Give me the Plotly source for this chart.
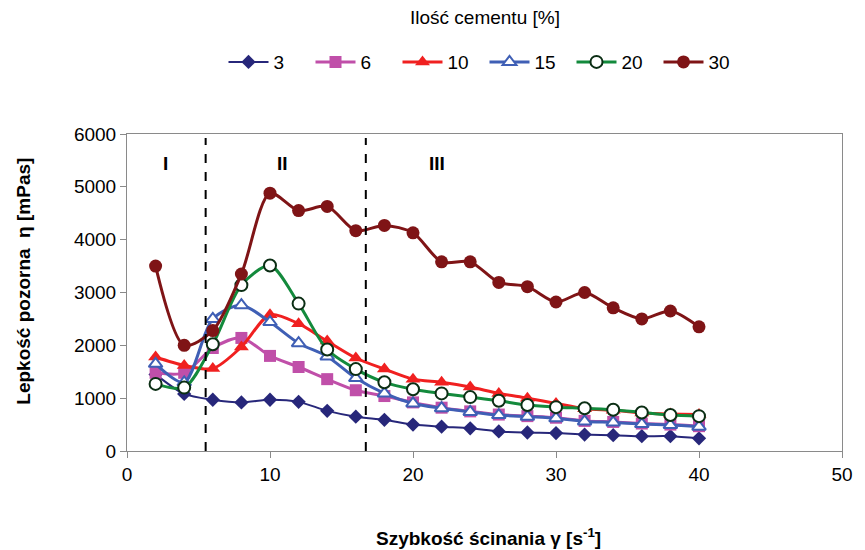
import plotly.graph_objects as go

shear_rate = [2, 4, 6, 8, 10, 12, 14, 16, 18, 20, 22, 24, 26, 28, 30, 32, 34, 36, 38, 40]

visc_3 = [1450, 1080, 970, 920, 970, 930, 760, 650, 590, 500, 460, 430, 370, 350, 340, 310, 300, 280, 280, 240]
visc_6 = [1480, 1480, 1950, 2140, 1800, 1590, 1360, 1150, 1040, 920, 820, 750, 690, 660, 630, 570, 550, 520, 500, 470]
visc_10 = [1780, 1620, 1560, 1970, 2580, 2410, 2080, 1760, 1550, 1360, 1300, 1210, 1090, 1000, 900, 800, 770, 720, 700, 690]
visc_15 = [1650, 1300, 2500, 2760, 2440, 2040, 1790, 1380, 1090, 900, 810, 740, 680, 650, 620, 560, 540, 510, 490, 460]
visc_20 = [1270, 1200, 2020, 3140, 3510, 2790, 1920, 1550, 1300, 1170, 1090, 1020, 950, 870, 830, 810, 780, 730, 680, 660]
visc_30 = [3500, 2000, 2280, 3350, 4880, 4550, 4630, 4170, 4270, 4130, 3580, 3580, 3190, 3110, 2820, 3000, 2710, 2500, 2650, 2350]

series_names = ["3", "6", "10", "15", "20", "30"]
region_labels = ["I", "II", "III"]
region_label_x = [2.7, 10.87, 21.7]
region_bounds = [5.5, 16.7]

FONT = "Liberation Sans, Arial, sans-serif"

styles = [
    dict(color="#27277a", width=2, symbol="diamond", msize=11, mfill="#27277a", mline="#27277a", mlw=0),
    dict(color="#c04fa9", width=3, symbol="square", msize=12, mfill="#c04fa9", mline="#c04fa9", mlw=0),
    dict(color="#f02020", width=3, symbol="triangle-up", msize=13, mfill="#f02020", mline="#f02020", mlw=0),
    dict(color="#3f5fb5", width=3, symbol="triangle-up", msize=12, mfill="white", mline="#3f5fb5", mlw=2),
    dict(color="#138a3c", width=3, symbol="circle", msize=12, mfill="white", mline="#0b2e14", mlw=2),
    dict(color="#7f1416", width=3, symbol="circle", msize=13, mfill="#7f1416", mline="#7f1416", mlw=0),
]
data = [visc_3, visc_6, visc_10, visc_15, visc_20, visc_30]

fig = go.Figure()
for name, ys, st in zip(series_names, data, styles):
    fig.add_trace(go.Scatter(
        x=shear_rate, y=ys, name=name, mode="lines+markers",
        line=dict(color=st["color"], width=st["width"], shape="spline", smoothing=0.8),
        marker=dict(symbol=st["symbol"], size=st["msize"], color=st["mfill"],
                    line=dict(color=st["mline"], width=st["mlw"])),
    ))

shapes = []
for xb in region_bounds:
    shapes.append(dict(type="line", xref="x", yref="paper", x0=xb, x1=xb, y0=0.0, y1=0.987,
                       line=dict(color="black", width=2, dash="dash")))

annotations = []
for lab, lx in zip(region_labels, region_label_x):
    annotations.append(dict(x=lx, y=5450, xref="x", yref="y", text="<b>%s</b>" % lab,
                            showarrow=False, font=dict(family=FONT, size=19, color="black")))

annotations.append(dict(x=0.5056, y=-0.271, xref="paper", yref="paper",
                        text="<b>Szybkość ścinania γ [s<sup>-1</sup>]</b>", showarrow=False,
                        xanchor="center", yanchor="middle",
                        font=dict(family=FONT, size=19, color="black")))
annotations.append(dict(x=-0.146, y=0.536, xref="paper", yref="paper",
                        text="<b>Lepkość pozorna  η [mPas]</b>", showarrow=False, textangle=-90,
                        xanchor="center", yanchor="middle",
                        font=dict(family=FONT, size=19, color="black")))
annotations.append(dict(x=0.5, y=1.366, xref="paper", yref="paper",
                        text="Ilość cementu [%]", showarrow=False,
                        xanchor="center", yanchor="middle",
                        font=dict(family=FONT, size=19, color="black")))

fig.update_layout(
    width=865, height=550,
    margin=dict(l=127, r=20, t=134, b=99),
    paper_bgcolor="white", plot_bgcolor="white",
    font=dict(family=FONT, size=19, color="black"),
    shapes=shapes, annotations=annotations,
    legend=dict(orientation="h", x=0.5, xanchor="center", y=1.227, yanchor="middle",
                entrywidth=32, font=dict(family=FONT, size=19, color="black"),
                bgcolor="rgba(0,0,0,0)", tracegroupgap=0, itemwidth=40),
    xaxis=dict(range=[0, 50], tickvals=[0, 10, 20, 30, 40, 50], showgrid=False, zeroline=False,
               showline=True, linecolor="#8a8a8a", linewidth=1, mirror=True,
               ticks="outside", ticklen=6, tickcolor="#8a8a8a",
               tickfont=dict(family=FONT, size=19, color="black")),
    yaxis=dict(range=[0, 6000], tickvals=[0, 1000, 2000, 3000, 4000, 5000, 6000], showgrid=False,
               zeroline=False, showline=True, linecolor="#8a8a8a", linewidth=1, mirror=True,
               ticks="outside", ticklen=6, tickcolor="#8a8a8a",
               tickfont=dict(family=FONT, size=19, color="black")),
)

fig.write_html("out.html")
